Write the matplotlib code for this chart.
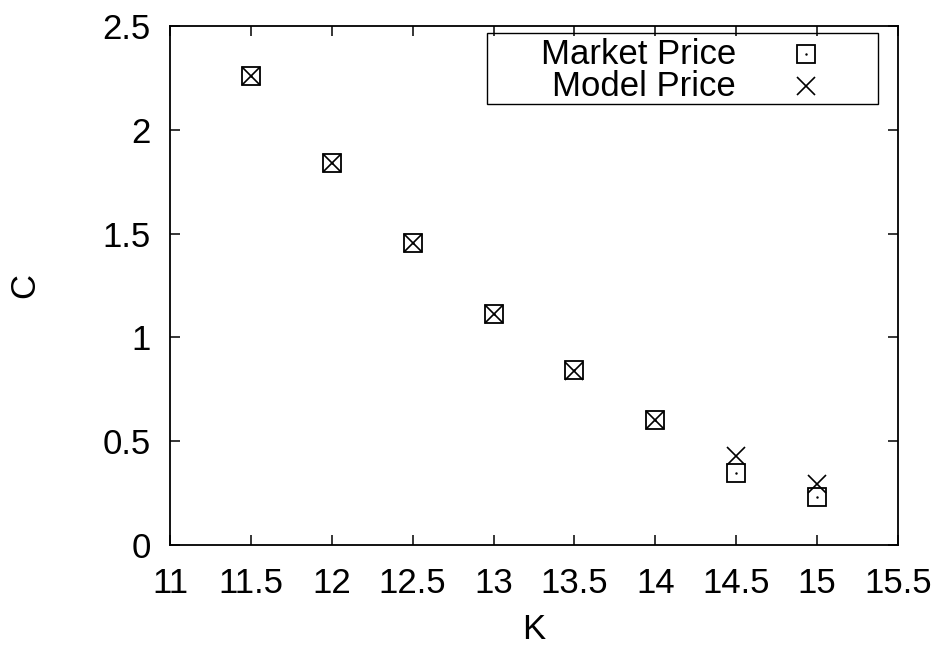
import matplotlib
matplotlib.use("Agg")
import matplotlib.pyplot as plt
from matplotlib.patches import Rectangle

plt.rcParams['font.family'] = ['Liberation Sans', 'DejaVu Sans']

strikes = [11.5, 12.0, 12.5, 13.0, 13.5, 14.0, 14.5, 15.0]
market_price = [2.26, 1.84, 1.455, 1.113, 0.843, 0.602, 0.348, 0.229]
model_price = [2.26, 1.84, 1.455, 1.113, 0.84, 0.602, 0.428, 0.295]

x_ticks = [11, 11.5, 12, 12.5, 13, 13.5, 14, 14.5, 15, 15.5]
y_ticks = [0, 0.5, 1, 1.5, 2, 2.5]
series_labels = ["Market Price", "Model Price"]

FS = 25

fig = plt.figure(figsize=(9.42, 6.48), dpi=100)
ax = fig.add_axes([170 / 942, 1 - 545 / 648, (898 - 170) / 942, (545 - 26) / 648])

sq_kw = dict(marker='s', markersize=12.5, markerfacecolor='none',
             markeredgecolor='black', markeredgewidth=1.3, linestyle='none')
dot_kw = dict(marker='.', markersize=1.5, color='black', linestyle='none')
x_kw = dict(marker='x', markersize=13, markeredgecolor='black',
            markeredgewidth=1.2, linestyle='none')

ax.plot(strikes, market_price, **sq_kw)
ax.plot(strikes, market_price, **dot_kw)
ax.plot(strikes, model_price, **x_kw)

ax.set_xlim(11, 15.5)
ax.set_ylim(0, 2.5)
ax.set_xticks(x_ticks)
ax.set_xticklabels([f"{t:g}" for t in x_ticks])
ax.set_yticks(y_ticks)
ax.set_yticklabels([f"{t:g}" for t in y_ticks])
ax.tick_params(direction='in', length=7, width=1.1, top=True, right=True,
               labelsize=FS)
ax.tick_params(axis='x', pad=16)
ax.tick_params(axis='y', pad=14)
for s in ax.spines.values():
    s.set_linewidth(1.3)

ax.set_xlabel("K", fontsize=FS, labelpad=9)
ax.set_ylabel("C", fontsize=FS, labelpad=44)

# gnuplot-style key: labels right-aligned, symbols on the right
def ax_px(px, py):
    return ((px - 170) / (898 - 170), (545 - py) / (545 - 26))

x0, y0 = ax_px(487, 104)
x1, y1 = ax_px(878, 33)
ax.add_patch(Rectangle((x0, y0), x1 - x0, y1 - y0, transform=ax.transAxes,
                       fill=False, edgecolor='black', linewidth=1.0,
                       clip_on=False, zorder=5))
tx, _ = ax_px(736, 0)
mx, _ = ax_px(806, 0)
_, r1 = ax_px(0, 54)
_, r2 = ax_px(0, 86)
ax.text(tx, r1, series_labels[0], transform=ax.transAxes, ha='right',
        va='center', fontsize=FS)
ax.text(tx, r2, series_labels[1], transform=ax.transAxes, ha='right',
        va='center', fontsize=FS)
ax.plot([mx], [r1], transform=ax.transAxes, clip_on=False, **sq_kw)
ax.plot([mx], [r1], transform=ax.transAxes, clip_on=False, **dot_kw)
ax.plot([mx], [r2], transform=ax.transAxes, clip_on=False, **x_kw)

fig.savefig("out.png", dpi=100)
